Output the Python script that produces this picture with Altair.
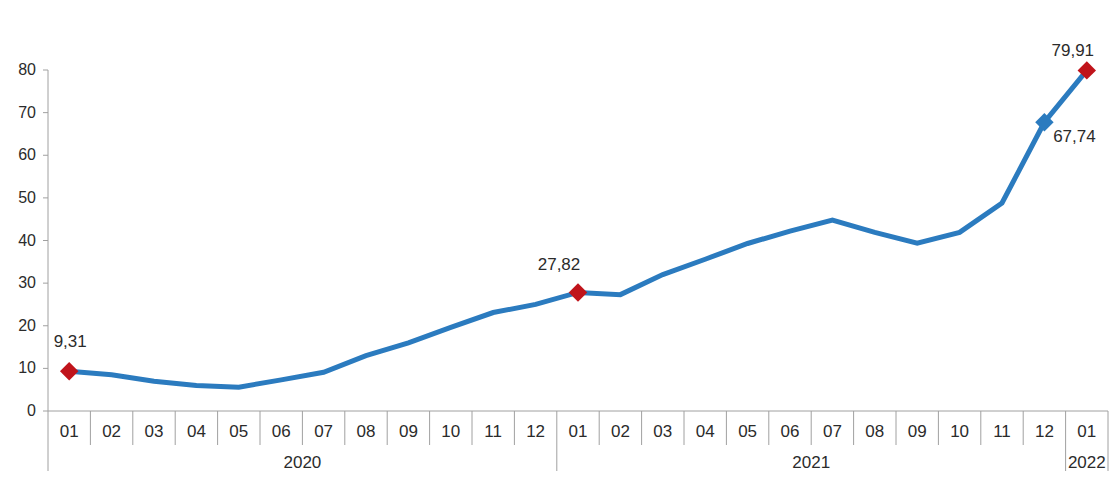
import altair as alt
import pandas as pd

months = ["01", "02", "03", "04", "05", "06", "07", "08", "09", "10", "11", "12",
          "01", "02", "03", "04", "05", "06", "07", "08", "09", "10", "11", "12", "01"]
values = [9.31, 8.5, 7.0, 6.0, 5.6, 7.3, 9.1, 13.0, 16.0, 19.6, 23.1, 25.0,
          27.82, 27.3, 32.0, 35.6, 39.3, 42.2, 44.8, 41.9, 39.4, 41.9, 48.8, 67.74, 79.91]
years = ["2020", "2021", "2022"]
year_counts = [12, 12, 1]
y_ticks = [0, 10, 20, 30, 40, 50, 60, 70, 80]
label_idx = [0, 12, 24, 23]
label_txt = ["9,31", "27,82", "79,91", "67,74"]
red_idx = [0, 12, 24]
blue_idx = [23]

FONT = "Liberation Sans"
TXT = "#2b2b2b"
GRID = "#a0a0a0"
BLUE = "#2b7bbf"
RED = "#c0141b"
W, H = 1060, 341

n = len(values)
df = pd.DataFrame({"pos": [i + 0.5 for i in range(n)],
                   "value": values, "month": months})
xs = alt.Scale(domain=[0, n], nice=False, zero=False)
ys = alt.Scale(domain=[0, 80], nice=False)


def X(field):
    return alt.X(field, scale=xs, axis=None)


def Y(field):
    return alt.Y(field, scale=ys, axis=None)


line = alt.Chart(df).mark_line(color=BLUE, strokeWidth=5).encode(
    x=X("pos:Q"), y=Y("value:Q"))

# manual y axis
yt_df = pd.DataFrame({"t": y_ticks, "lab": [str(t) for t in y_ticks]})
yaxis_line = alt.Chart(pd.DataFrame({"y0": [0], "y1": [80]})).mark_rule(color=GRID).encode(
    x=alt.value(0), y=Y("y0:Q"), y2="y1:Q")
yaxis_ticks = alt.Chart(yt_df).mark_rule(color=GRID).encode(
    x=alt.value(-5), x2=alt.value(0), y=Y("t:Q"))
yaxis_labels = alt.Chart(yt_df).mark_text(font=FONT, fontSize=16, color=TXT, align="right",
                                          baseline="middle").encode(
    x=alt.value(-12), y=Y("t:Q"), text="lab:N")

pts_df = pd.DataFrame({
    "pos": [i + 0.5 for i in red_idx + blue_idx],
    "value": [values[i] for i in red_idx + blue_idx],
    "kind": ["red"] * len(red_idx) + ["blue"] * len(blue_idx),
})
points = alt.Chart(pts_df).mark_point(shape="diamond", filled=True, size=340, opacity=1).encode(
    x=X("pos:Q"),
    y=Y("value:Q"),
    color=alt.Color("kind:N", scale=alt.Scale(domain=["red", "blue"], range=[RED, BLUE]), legend=None),
)

# data labels (offsets relative to their points)
offsets = {"9,31": (1, -29), "27,82": (-19, -27), "79,91": (-14, -19), "67,74": (30, 15)}
label_layers = []
for i, t in zip(label_idx, label_txt):
    ldf = pd.DataFrame({"pos": [i + 0.5], "value": [values[i]], "label": [t]})
    dx, dy = offsets[t]
    label_layers.append(
        alt.Chart(ldf).mark_text(font=FONT, fontSize=17, color=TXT, dx=dx, dy=dy,
                                 baseline="middle").encode(
            x=X("pos:Q"), y=Y("value:Q"), text="label:N"))

# baseline
base_df = pd.DataFrame({"x0": [0.0], "x1": [float(n)]})
baseline = alt.Chart(base_df).mark_rule(color=GRID, strokeWidth=1).encode(
    x=X("x0:Q"), x2="x1:Q", y=alt.value(H))

# category separators
year_bounds = [0]
for c in year_counts:
    year_bounds.append(year_bounds[-1] + c)
short_b = [b for b in range(n + 1) if b not in year_bounds]
sep_df = pd.DataFrame({"b": [float(b) for b in short_b]})
lsep_df = pd.DataFrame({"b": [float(b) for b in year_bounds]})
short_sep = alt.Chart(sep_df).mark_rule(color=GRID).encode(
    x=X("b:Q"), y=alt.value(H), y2=alt.value(H + 34))
long_sep = alt.Chart(lsep_df).mark_rule(color=GRID).encode(
    x=X("b:Q"), y=alt.value(H), y2=alt.value(H + 61))

month_text = alt.Chart(df).mark_text(font=FONT, fontSize=17, color=TXT, baseline="middle").encode(
    x=X("pos:Q"), y=alt.value(H + 21), text="month:N")

yr_df = pd.DataFrame({"year": years,
                      "pos": [(year_bounds[i] + year_bounds[i + 1]) / 2 for i in range(len(years))]})
year_text = alt.Chart(yr_df).mark_text(font=FONT, fontSize=17, color=TXT, baseline="middle").encode(
    x=X("pos:Q"), y=alt.value(H + 52), text="year:N")

chart = alt.layer(yaxis_line, yaxis_ticks, yaxis_labels, baseline, short_sep, long_sep,
                  month_text, year_text, line, points, *label_layers).properties(
    width=W, height=H,
    autosize=alt.AutoSizeParams(type="none"),
    padding={"left": 40, "top": 62, "right": 2, "bottom": 60},
).configure_view(strokeWidth=0)

chart.save("out.html", embed_options={"renderer": "svg", "actions": False})
